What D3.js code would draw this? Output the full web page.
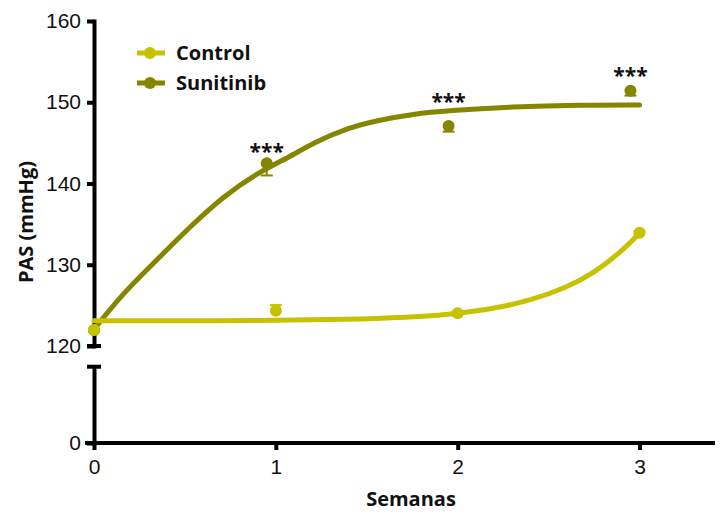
<!DOCTYPE html>
<html>
<head>
<meta charset="utf-8">
<script src="https://cdn.jsdelivr.net/npm/d3@7"></script>
<style>
  body { margin: 0; background: #fff; }
  svg { display: block; font-family: "Open Sans", sans-serif; }
</style>
</head>
<body>
<script>
// Measured means (weeks, mmHg)
const weeks = [0, 1, 2, 3];
const controlMean = [121.97, 124.34, 124.02, 133.94];
const controlErr = [0.2, 0.7, 0.2, 0.2];          // drawn upward
const sunitWeeks = [0, 0.95, 1.95, 2.95];          // Prism nudges this series left a bit
const sunitMean = [121.97, 142.49, 147.08, 151.42];
const sunitErr = [0.2, 1.5, 0.7, 0.6];             // drawn downward
const sigWeeks = [0.95, 1.95, 2.95];
const sigY = [144.5, 150.7, 153.8];
const sigLabel = ["***", "***", "***"];

// fitted curves
const controlFitX = [0, 0.5, 1.0, 1.5, 1.8, 2.0, 2.2, 2.4, 2.6, 2.75, 2.9, 3.0];
const controlFitY = [123.1, 123.1, 123.15, 123.3, 123.6, 124.0, 124.6, 125.6, 127.2, 129.0, 131.6, 133.9];
const sunitFitX = [0, 0.16, 0.345, 0.528, 0.71, 0.895, 1.078, 1.205, 1.392, 1.573, 1.755, 1.942, 2.305, 2.673, 3.0];
const sunitFitY = [122.06, 126.52, 130.58, 134.68, 138.38, 141.26, 143.3, 144.98, 146.83, 147.82, 148.55, 148.96, 149.45, 149.66, 149.66];

const yTicks = [120, 130, 140, 150, 160];
const xTicks = [0, 1, 2, 3];

const colControl = "#c6c200";
const colSunit = "#858500";

const width = 721, height = 514;
const x = d3.scaleLinear([0, 3.404], [94, 713]);
const yTop = d3.scaleLinear([120, 160], [346, 21]);
const yBot = d3.scaleLinear([0, 9.4], [443, 366.7]);

const svg = d3.select("body").append("svg")
  .attr("width", width)
  .attr("height", height);

// axes
const axisW = 4;
const gTop = svg.append("g")
  .attr("transform", `translate(${x(0)},0)`)
  .call(d3.axisLeft(yTop).tickValues(yTicks).tickSize(7).tickPadding(6).tickSizeOuter(0));
const gBot = svg.append("g")
  .attr("transform", `translate(${x(0)},0)`)
  .call(d3.axisLeft(yBot).tickValues([0]).tickSize(7).tickPadding(6).tickSizeOuter(0));
const gX = svg.append("g")
  .attr("transform", `translate(0,${yBot(0)})`)
  .call(d3.axisBottom(x).tickValues(xTicks).tickFormat(d3.format("d"))
    .tickSize(7).tickPadding(9).tickSizeOuter(0));

for (const g of [gTop, gBot, gX]) {
  g.select(".domain").attr("stroke", "#000").attr("stroke-width", axisW).attr("stroke-linecap", "square");
  g.selectAll(".tick line").attr("stroke", "#000").attr("stroke-width", axisW);
  g.selectAll(".tick text").attr("fill", "#111").attr("font-size", 21);
}
gX.select(".domain").attr("d", `M${x(0) - 7},0H${x.range()[1]}`);

// break caps
svg.append("g")
  .attr("stroke", "#000")
  .attr("stroke-width", axisW)
  .selectAll("line")
  .data([yTop(120), yBot.range()[1]])
  .join("line")
  .attr("x1", x(0) - 7)
  .attr("x2", x(0) + 7)
  .attr("y1", d => d)
  .attr("y2", d => d);

// axis titles
svg.append("text")
  .attr("transform", `translate(33,${222}) rotate(-90)`)
  .attr("text-anchor", "middle")
  .attr("font-size", 20)
  .attr("font-weight", "bold")
  .attr("fill", "#111")
  .text("PAS (mmHg)");

svg.append("text")
  .attr("x", 411)
  .attr("y", 506)
  .attr("text-anchor", "middle")
  .attr("font-size", 20)
  .attr("font-weight", "bold")
  .attr("fill", "#111")
  .text("Semanas");

// curves
const line = d3.line()
  .x(d => x(d[0]))
  .y(d => yTop(d[1]))
  .curve(d3.curveBasis);

const series = [
  {name: "Sunitinib", color: colSunit, fx: sunitFitX, fy: sunitFitY, px: sunitWeeks, py: sunitMean, err: sunitErr, dir: -1},
  {name: "Control", color: colControl, fx: controlFitX, fy: controlFitY, px: weeks, py: controlMean, err: controlErr, dir: 1}
];

for (const s of series) {
  svg.append("path")
    .attr("fill", "none")
    .attr("stroke", s.color)
    .attr("stroke-width", 5)
    .attr("stroke-linecap", "round")
    .attr("d", line(d3.zip(s.fx, s.fy)));
}

for (const s of series) {
  const pts = d3.zip(s.px, s.py, s.err);
  const eb = svg.append("g").attr("stroke", s.color).attr("stroke-width", 2);
  eb.selectAll("line.stem")
    .data(pts)
    .join("line")
    .attr("class", "stem")
    .attr("x1", d => x(d[0]))
    .attr("x2", d => x(d[0]))
    .attr("y1", d => yTop(d[1]))
    .attr("y2", d => yTop(d[1] + s.dir * d[2]));
  eb.selectAll("line.cap")
    .data(pts)
    .join("line")
    .attr("class", "cap")
    .attr("x1", d => x(d[0]) - 6)
    .attr("x2", d => x(d[0]) + 6)
    .attr("y1", d => yTop(d[1] + s.dir * d[2]))
    .attr("y2", d => yTop(d[1] + s.dir * d[2]));
  svg.append("g")
    .attr("fill", s.color)
    .selectAll("circle")
    .data(pts)
    .join("circle")
    .attr("cx", d => x(d[0]))
    .attr("cy", d => yTop(d[1]))
    .attr("r", 6);
}

// significance stars
svg.append("g")
  .attr("font-size", 21)
  .attr("font-weight", "bold")
  .attr("fill", "#111")
  .attr("text-anchor", "middle")
  .selectAll("text")
  .data(d3.zip(sigWeeks, sigY, sigLabel))
  .join("text")
  .attr("x", d => x(d[0]))
  .attr("y", d => yTop(d[1]) + 12)
  .text(d => d[2]);

// legend
const legend = svg.append("g").attr("transform", "translate(137,53)");
const legendItems = [
  {name: "Control", color: colControl},
  {name: "Sunitinib", color: colSunit}
];
const li = legend.selectAll("g")
  .data(legendItems)
  .join("g")
  .attr("transform", (d, i) => `translate(0,${i * 30})`);
li.append("line")
  .attr("x1", 0).attr("x2", 28)
  .attr("stroke", d => d.color)
  .attr("stroke-width", 5);
li.append("circle")
  .attr("cx", 13).attr("r", 6)
  .attr("fill", d => d.color);
li.append("text")
  .attr("x", 39)
  .attr("y", 7)
  .attr("font-size", 20)
  .attr("font-weight", "bold")
  .attr("fill", "#111")
  .text(d => d.name);
</script>
</body>
</html>
